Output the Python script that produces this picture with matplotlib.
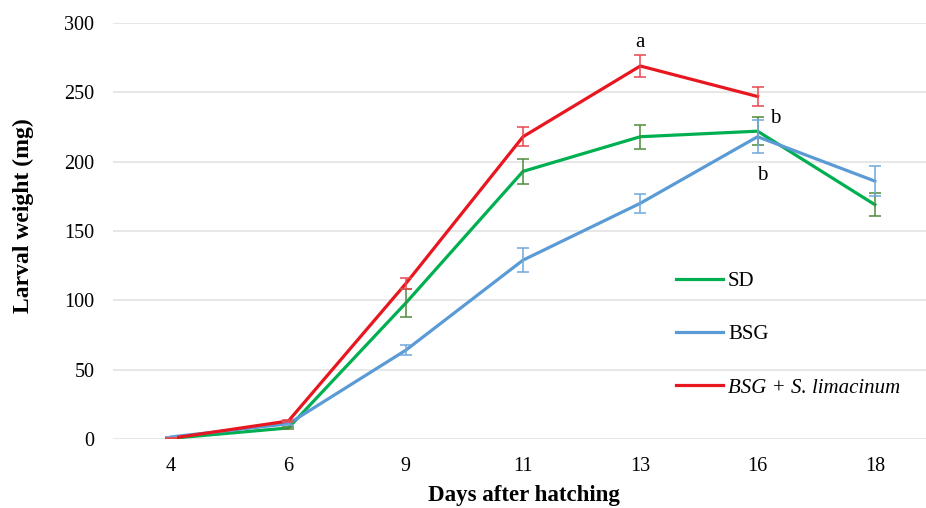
import numpy as np
import matplotlib
matplotlib.use("Agg")
import matplotlib.pyplot as plt

plt.rcParams['font.family'] = ['Liberation Serif', 'DejaVu Serif']

# larval weight (mg), mean and error per sampling day
days = ['4', '6', '9', '11', '13', '16', '18']
sd_mean = [0.5, 8, 98, 193, 218, 222, 169]
sd_err = [0, 1, 10, 9, 8.5, 10, 8.5]
bsg_mean = [1.5, 11, 64, 129, 170, 218, 186]
bsg_err = [0, 1, 3.5, 8.5, 7, 12, 11]
bsl_mean = [0.5, 13, 112, 218, 269, 247]
bsl_err = [0, 1, 4, 7, 8, 7]

# significance letters: (day index, weight, letter)
letters = [(4, 286, 'a'), (5.15, 231, 'b'), (5.04, 190, 'b')]

fig = plt.figure(figsize=(9.26, 5.08), dpi=100)
ax = fig.add_axes([0.1215, 0.1358, 0.8866, 0.8189])

x = np.arange(len(days))
series = [
    ('SD', sd_mean, sd_err, '#00B050', '#4F8A3C'),
    ('BSG', bsg_mean, bsg_err, '#5B9BD5', '#6FA8DC'),
    ('BSG + S. limacinum', bsl_mean, bsl_err, '#E8161F', '#E8474F'),
]
for name, m, e, c, ec in series:
    xs = x[:len(m)]
    ax.plot(xs, m, color=c, lw=2.3, label=name, zorder=3)
    ax.errorbar(xs, m, yerr=e, fmt='none', ecolor=ec, elinewidth=1.1,
                capsize=4.5, capthick=1.1, zorder=4)

for xi, yi, t in letters:
    ax.text(xi, yi, t, ha='center', va='center', fontsize=15)

ax.set_xlim(-0.5, 6.5)
ax.set_ylim(0, 300)
ax.set_yticks(range(0, 301, 50))
ax.set_xticks(x)
ax.set_xticklabels(days)
ax.tick_params(length=0, labelsize=14.5, pad=13)
ax.tick_params(axis='y', pad=13)
ax.grid(axis='y', color='#E3E3E3', lw=1.2)
ax.set_axisbelow(True)
for s in ax.spines.values():
    s.set_visible(False)

fig.text(23 / 926, 0.575, 'Larval weight (mg)', rotation=90, ha='center',
         va='center', fontsize=17, fontweight='bold')
fig.text(0.566, 0.025, 'Days after hatching', ha='center', va='center',
         fontsize=16.5, fontweight='bold')

leg = ax.legend(loc='upper left', bbox_to_anchor=(676 / 926, 1 - 271.5 / 508),
                bbox_transform=fig.transFigure, frameon=False, fontsize=15,
                handlelength=2.25, handletextpad=0.25, labelspacing=1.62,
                borderpad=0, borderaxespad=0)
leg.get_texts()[2].set_fontstyle('italic')

fig.savefig('out.png', dpi=100)
